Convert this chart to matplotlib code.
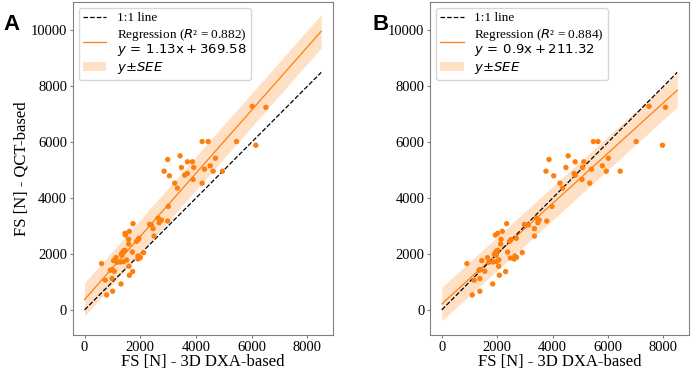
import numpy as np
from matplotlib import pyplot as plt

plt.rcParams.update({
    "font.family": "serif",
    "font.serif": ["Liberation Serif", "DejaVu Serif"],
    "mathtext.fontset": "dejavusans"})

# QCT-based failure strength (shared by both panels)
fs_qct = [7286, 7250, 6025, 6025, 6025, 5893, 5514, 5382, 5300, 5300, 5429, 5096,
          5096, 5157, 5036, 4964, 4964, 4964, 4800, 4882, 4821, 4668, 4536, 4536,
          4357, 3704,
          3286, 3214, 3179, 3121, 3061, 3036, 2907, 2643, 3086, 2739, 2811, 2679,
          2525, 2357, 2561, 2514, 2454, 2132, 2107, 2050, 1989, 2071, 1954, 2050,
          1929, 1882, 1821, 1857, 1871, 1764, 1704, 1714, 1729, 1786, 1657, 1561,
          1443, 1418, 1382, 1371, 1239, 1121, 1061, 929, 668, 536]

# 3D DXA-based failure strength, panel A
fs_dxa_a = [6022, 6511, 4223, 4439, 5457, 6151, 3432, 2986, 3694, 3874, 4701, 3478,
            3921, 4511, 4306, 2856, 4619, 4953, 3047, 3694, 3597, 3899, 3237, 4223,
            3335, 3011,
            2640, 2759, 2986, 2676, 2338, 2399, 2460, 2496, 1741, 1453, 1608, 1464,
            1583, 1583, 1957, 1921, 1871, 1453, 1403, 1356, 1320, 1716, 1345, 2122,
            1921, 2004, 1921, 1978, 1129, 1043, 1165, 1284, 1403, 1511, 611, 1597,
            996, 924, 1068, 1727, 1608, 986, 745, 1309, 1007, 791]

# 3D DXA-based failure strength, panel B
fs_dxa_b = [7480, 8075, 5473, 5638, 7014, 7968, 4563, 3871, 4814, 5125, 6010, 4480,
            5079, 5796, 5401, 3763, 5939, 6441, 4039, 4778, 4814, 5065, 4265, 5341,
            4362, 3978,
            3416, 3513, 3788, 3466, 2986, 3129, 3344, 3344, 2341, 2018, 2186, 1935,
            2139, 2126, 2688, 2498, 2448, 2018, 1980, 1930, 1900, 2376, 1960, 2903,
            2640, 2700, 2616, 2473, 1649, 1444, 1700, 1850, 1971, 2060, 907, 2054,
            1373, 1340, 1552, 2305, 2079, 1373, 1172, 1839, 1373, 1100]

slopes = [1.13, 0.9]
intercepts = [369.58, 211.32]
r2 = [0.882, 0.884]
see = [600, 600]

orange = '#ff7f0e'
x_line = np.array([0, 8500])

fig = plt.figure(figsize=(6.92, 3.71), dpi=100)
ax_a = fig.add_axes([0.1051, 0.0970, 0.3762, 0.8976])
ax_b = fig.add_axes([0.6214, 0.0970, 0.3743, 0.8976])

for i, (ax, xs) in enumerate([(ax_a, fs_dxa_a), (ax_b, fs_dxa_b)]):
    y_reg = slopes[i] * x_line + intercepts[i]
    slope_txt = ('%.2f' % slopes[i]).rstrip('0')
    ax.plot(x_line, x_line, 'k--', lw=0.9, label='1:1 line', zorder=3)
    ax.plot(x_line, y_reg, color=orange, lw=0.9,
            label='Regression ($R$\u00b2 = %.3f)\n$y\\,{=}\\,%s\\mathrm{x} + %.2f$'
            % (r2[i], slope_txt, intercepts[i]))
    ax.fill_between(x_line, y_reg - see[i], y_reg + see[i], color=orange,
                    alpha=0.24, lw=0, label=r'$y{\pm}SEE$')
    ax.scatter(xs, fs_qct, s=15, color=orange, edgecolors='none', zorder=4)

    ax.set_xlim(-425, 8925)
    ax.set_ylim(-900, 11020)
    ax.set_xticks([0, 2000, 4000, 6000, 8000])
    ax.set_yticks([0, 2000, 4000, 6000, 8000, 10000])
    ax.tick_params(labelsize=10.5, color='#808080', length=2.5, pad=1.5)
    for sp in ax.spines.values():
        sp.set_color('#808080')
    ax.set_xlabel("FS [N] - 3D DXA-based", fontsize=12, labelpad=0)
    leg = ax.legend(loc='upper left', fontsize=9.5, handlelength=1.8,
                    borderaxespad=0.45, labelspacing=0.2, borderpad=0.3)
    for t in leg.get_texts():
        t.set_linespacing(0.9)

ax_a.set_ylabel("FS [N] - QCT-based", fontsize=12, labelpad=1)

fig.text(0.005, 0.962, "A", fontsize=16, fontweight='bold',
         family='Liberation Sans', va='top')
fig.text(0.538, 0.962, "B", fontsize=16, fontweight='bold',
         family='Liberation Sans', va='top')

plt.savefig("out.png", dpi=100)
